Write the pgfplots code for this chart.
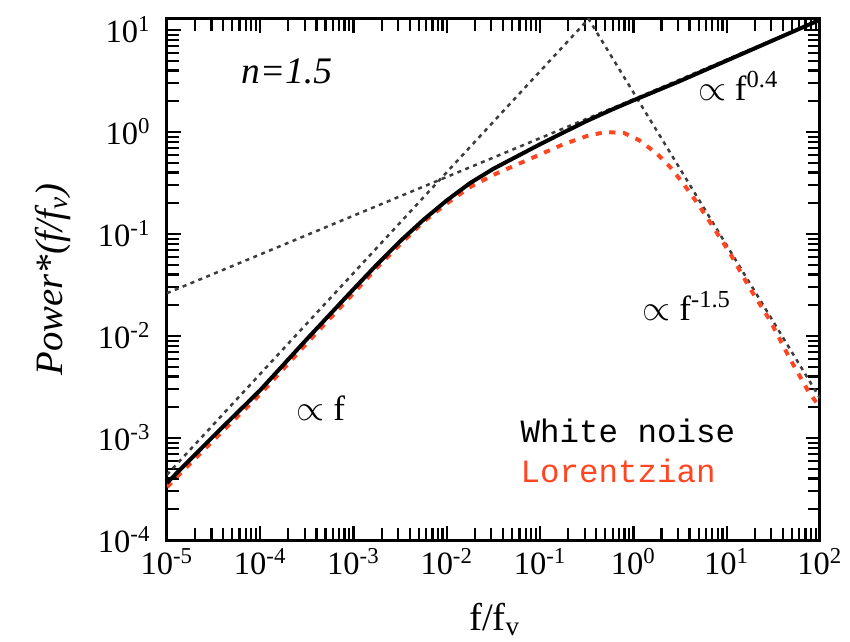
\documentclass[border=0pt]{standalone}
\usepackage{fontspec}
\setmainfont{Liberation Serif}
\newfontfamily\courier{Liberation Mono}
\usepackage{pgfplots}
\pgfplotsset{compat=1.18}
\definecolor{lorred}{RGB}{255,70,35}
\definecolor{dotgray}{RGB}{60,60,60}

\begin{document}
\begin{tikzpicture}
\useasboundingbox (-66.8pt,-40.8pt) rectangle (273.2pt,216pt);
\begin{axis}[scale only axis,width=261.2pt,height=208.4pt,
  xmode=log,ymode=log,log basis x=10,log basis y=10,
  xmin=1e-5,xmax=1e2,ymin=1e-4,ymax=12.82,
  axis line style={line width=1.2pt},
  tick style={line width=0.9pt,black},tick align=inside,
  major tick length=5.5pt,minor tick length=5pt,
  xticklabel={10\textsuperscript{\pgfmathparse{int(round(\tick))}\pgfmathresult}},
  yticklabel={10\textsuperscript{\pgfmathparse{int(round(\tick))}\pgfmathresult}},
  tick label style={font=\fontsize{13}{15}\selectfont},
  yticklabel style={xshift=-3pt},
  xlabel={f/f\textsubscript{v}},
  ylabel={\textit{Power*(f/f\textsubscript{v})}},
  label style={font=\fontsize{15.5}{18}\selectfont},
  xlabel style={at={(axis description cs:0.502,-0.104)},anchor=north},
  ylabel style={at={(axis description cs:-0.175,0.5)},anchor=center}]

% asymptotes
\addplot[dotgray,line width=1pt,dash pattern=on 1.6pt off 1.8pt] coordinates {
(1e-5,4.365e-4) (0.3311,12.88)};
\addplot[dotgray,line width=1pt,dash pattern=on 1.6pt off 1.8pt] coordinates {
(0.3273,13.03) (100,2.455e-3)};
\addplot[dotgray,line width=1pt,dash pattern=on 1.6pt off 1.8pt] coordinates {
(1e-5,2.630e-2) (1,2.089) (100,12.59)};

% Lorentzian
\addplot[lorred,line width=1.6pt,dash pattern=on 2.5pt off 3pt] coordinates {
(1e-5,3.311e-4) (3.162e-5,9.550e-4) (1e-4,2.692e-3) (3.162e-4,8.511e-3)
(1e-3,2.630e-2) (1.778e-3,4.677e-2) (3.162e-3,7.943e-2) (5.623e-3,0.1318)
(1e-2,0.1995) (1.778e-2,0.2884) (3.162e-2,0.3802) (5.623e-2,0.4786)
(0.1,0.6026) (0.1778,0.7586) (0.3162,0.9120) (0.5012,1.000)
(0.7943,0.9772) (1.148,0.8318) (1.778,0.6166)
(2.455,0.4571) (3.388,0.3162) (4.786,0.2042) (6.166,0.1445)
(10.72,6.607e-2) (17.38,3.020e-2) (28.84,1.445e-2) (46.77,6.166e-3)
(75.86,2.818e-3) (100,1.995e-3)};

% white noise
\addplot[black,line width=1.6pt] coordinates {
(1e-5,3.631e-4) (3.162e-5,1.047e-3) (1e-4,2.951e-3) (3.162e-4,9.333e-3)
(1e-3,2.884e-2) (1.778e-3,5.012e-2) (3.162e-3,8.511e-2) (5.623e-3,0.1380)
(1e-2,0.2138) (1.778e-2,0.3162) (3.162e-2,0.4365) (5.623e-2,0.5754)
(0.1,0.7586) (0.1778,0.9886) (0.3162,1.282) (0.5623,1.629)
(1,2.042) (3.162,3.162) (10,5.012) (31.62,7.943) (100,12.59)};

\node[anchor=base west,font=\fontsize{15}{17}\selectfont] at (rel axis cs:0.10,0.877) {\textit{n=1.5}};
\node[anchor=base west,font=\fontsize{14}{16}\selectfont] at (rel axis cs:0.80,0.843) {$\propto$ f\textsuperscript{0.4}};
\node[anchor=base west,font=\fontsize{14}{16}\selectfont] at (rel axis cs:0.715,0.422) {$\propto$ f\textsuperscript{-1.5}};
\node[anchor=base west,font=\fontsize{14}{16}\selectfont] at (rel axis cs:0.185,0.230) {$\propto$ f};
\node[anchor=base west,font=\courier\fontsize{13}{15}\selectfont] at (rel axis cs:0.528,0.188) {White noise};
\node[anchor=base west,font=\courier\fontsize{13}{15}\selectfont,text=lorred] at (rel axis cs:0.528,0.111) {Lorentzian};
\end{axis}
\end{tikzpicture}
\end{document}
